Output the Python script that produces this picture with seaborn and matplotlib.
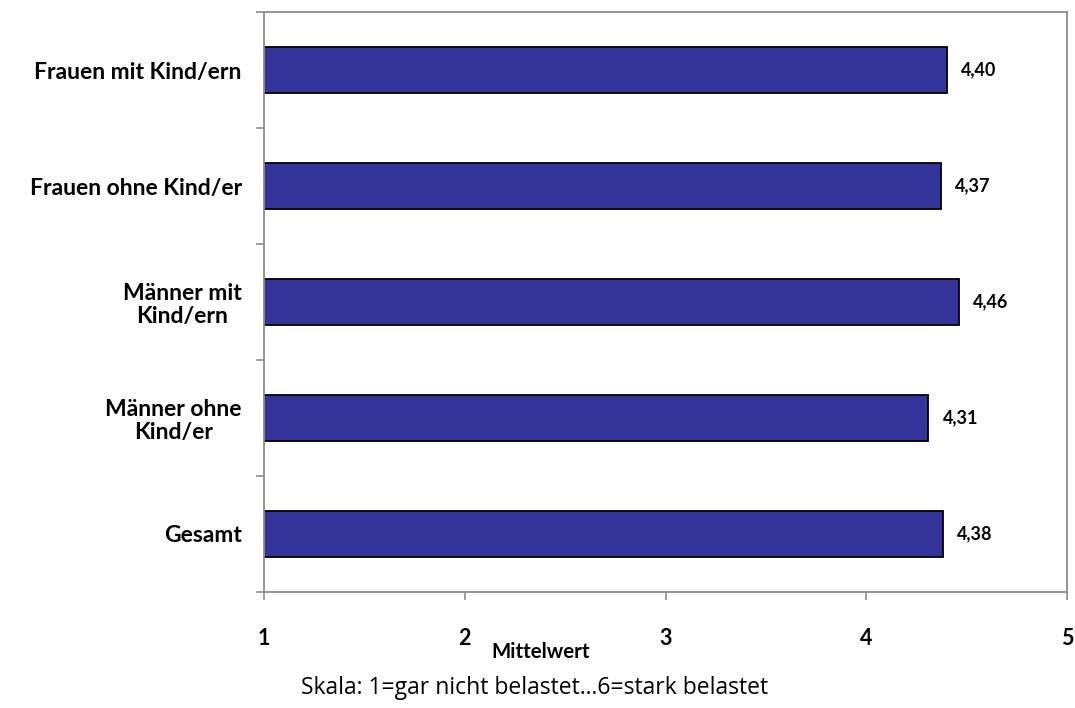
import pandas as pd
import seaborn as sns
import matplotlib.pyplot as plt

# Daten
gruppen = ["Frauen mit Kind/ern", "Frauen ohne Kind/er", "Männer mit\nKind/ern",
           "Männer ohne\nKind/er", "Gesamt"]
mittelwerte = [4.40, 4.37, 4.46, 4.31, 4.38]
x_ticks = [1, 2, 3, 4, 5]

df = pd.DataFrame({"Gruppe": gruppen, "Mittelwert": mittelwerte})

sns.set_style("white")
plt.rcParams["font.family"] = ["Lato", "DejaVu Sans"]
plt.rcParams["text.color"] = "black"

fig = plt.figure(figsize=(10.75, 7.08), dpi=100)
ax = fig.add_axes([264 / 1075, 1 - 592 / 708, (1067 - 264) / 1075, (592 - 12) / 708])

sns.barplot(data=df, x="Mittelwert", y="Gruppe", orient="h", color="#333399",
            saturation=1, width=0.4, edgecolor="black", linewidth=1.3, ax=ax)

ax.set_xlim(1, 5)
ax.set_ylim(len(gruppen) - 0.5, -0.5)
ax.set_xticks(x_ticks)
ax.set_xticklabels([str(t) for t in x_ticks], fontsize=15.5, fontweight="bold", color="black")
ax.tick_params(axis="x", bottom=True, direction="out", length=6, width=1.2,
               color="#8c8c8c", pad=20)

# Kategorien: Beschriftung ohne Tick, Ticks an den Grenzen
ax.set_yticks(range(len(gruppen)))
ax.set_yticklabels(gruppen, fontsize=16.5, fontweight="bold", color="black",
                   ha="right", multialignment="center", linespacing=1.1)
ax.tick_params(axis="y", length=0, pad=16)
ax.set_yticks([i - 0.5 for i in range(len(gruppen) + 1)], minor=True)
ax.tick_params(axis="y", which="minor", left=True, direction="out", length=6, width=1.2,
               color="#8c8c8c")

for s in ax.spines.values():
    s.set_color("#8c8c8c")
    s.set_linewidth(1.3)

ax.set_xlabel("")
ax.set_ylabel("")

for i, v in enumerate(mittelwerte):
    ax.text(v + 0.07, i, f"{v:.2f}".replace(".", ","), va="center", ha="left",
            fontsize=13, fontweight="bold")

fig.text(541 / 1075, 1 - 652 / 708, "Mittelwert", ha="center", va="center",
         fontsize=14.8, fontweight="bold")
fig.text(535 / 1075, 1 - 688 / 708, "Skala: 1=gar nicht belastet...6=stark belastet",
         ha="center", va="center", fontsize=16.5, family=["Open Sans", "DejaVu Sans"])

fig.savefig("out.png", dpi=100)
